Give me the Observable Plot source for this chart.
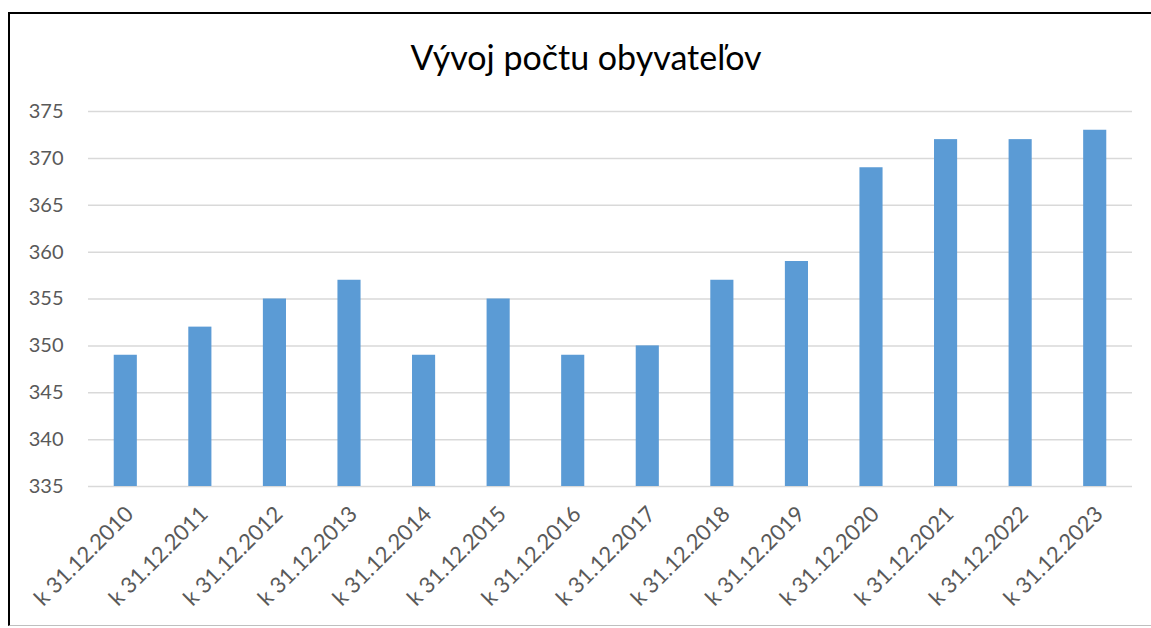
<!DOCTYPE html>
<html><head><meta charset="utf-8">
<script src="https://cdn.jsdelivr.net/npm/d3@7"></script>
<script src="https://cdn.jsdelivr.net/npm/@observablehq/plot@0.6"></script>
<style>
body{margin:0;background:#fff;width:1151px;height:628px;overflow:hidden;position:relative;font-family:Lato,sans-serif}
#frame{position:absolute;left:8px;top:12px;width:1143px;height:614px;border-top:2px solid #000;border-left:2px solid #000;border-bottom:1px solid #bfbfbf;box-sizing:border-box}
#title{position:absolute;left:0;width:1172px;top:36px;text-align:center;font-size:34px;color:#000;font-family:Lato,sans-serif}
#chart{position:absolute;left:0;top:0}
</style></head><body>
<div id="frame"></div>
<div id="chart"></div>
<div id="title">Vývoj počtu obyvateľov</div>
<script>
const categories = ["k 31.12.2010","k 31.12.2011","k 31.12.2012","k 31.12.2013","k 31.12.2014","k 31.12.2015","k 31.12.2016","k 31.12.2017","k 31.12.2018","k 31.12.2019","k 31.12.2020","k 31.12.2021","k 31.12.2022","k 31.12.2023"];
const values = [349,352,355,357,349,355,349,350,357,359,369,372,372,373];
const yTicks = [335,340,345,350,355,360,365,370,375];
const data = categories.map((c,i)=>({cat:c, v:values[i]}));
const chart = Plot.plot({
  width:1151, height:628,
  marginLeft:88, marginRight:19, marginTop:111, marginBottom:142,
  style:{fontFamily:"Lato, sans-serif", fontSize:"20px", color:"#595959", background:"transparent"},
  x:{domain:categories, paddingInner:0.69, paddingOuter:0.345, round:false, label:null},
  y:{domain:[335,375], label:null, ticks:yTicks},
  marks:[
    Plot.ruleY(yTicks,{stroke:"#d9d9d9", strokeWidth:1.5}),
    Plot.barY(data,{x:"cat", y1:335, y2:"v", fill:"#5B9BD5"}),
    Plot.axisY({ticks:yTicks, tickSize:0, tickPadding:25, label:null, fill:"#595959", fontSize:20}),
    Plot.axisX({tickSize:0, tickRotate:-45, tickPadding:24, label:null, fill:"#595959", fontSize:22, dx:4})
  ]
});
document.getElementById("chart").appendChild(chart);
</script>
</body></html>
